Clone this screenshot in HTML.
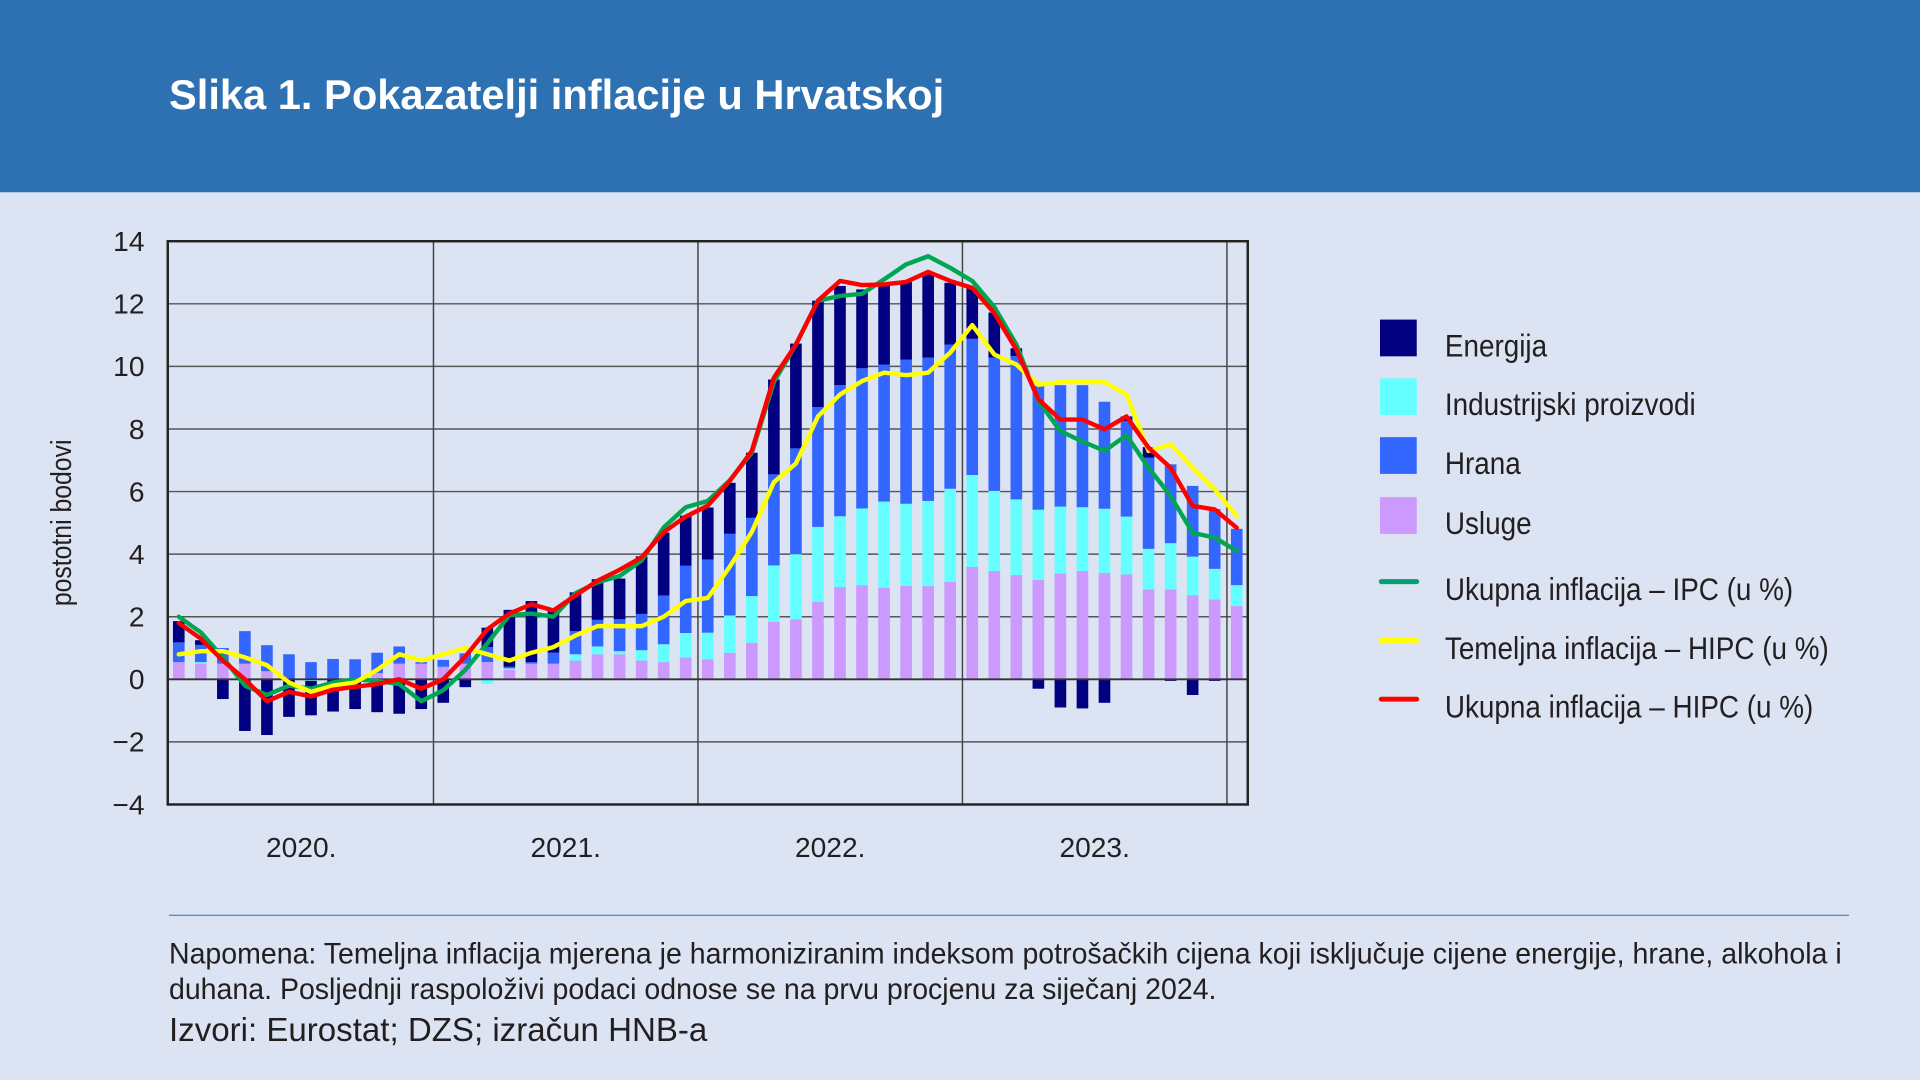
<!DOCTYPE html>
<html><head><meta charset="utf-8">
<style>
html,body{margin:0;padding:0;width:1920px;height:1080px;overflow:hidden;background:#DCE3F2;}
#wrap{position:absolute;left:0;top:0;width:1568px;height:882px;transform:scale(1.22449);transform-origin:0 0;background:#DCE3F2;font-family:"Liberation Sans Narrow","Liberation Sans",sans-serif;color:#231F20;}
#hdr{position:absolute;left:0;top:0;width:1568px;height:157px;background:#2E71B2;}
#title{position:absolute;left:138px;top:59px;font-family:"Liberation Sans",sans-serif;font-weight:bold;font-size:34px;color:#fff;white-space:nowrap;}
.note{position:absolute;left:138px;font-size:24px;white-space:nowrap;transform:scaleX(0.97);transform-origin:0 0;}
</style></head><body>
<div id="wrap">
<div id="hdr"></div>
<div id="title">Slika 1. Pokazatelji inflacije u Hrvatskoj</div>
<svg id="chart" width="1568" height="740" style="position:absolute;left:0;top:0"></svg>
<div style="position:absolute;left:138px;top:747px;width:1372px;height:1px;background:#4A86C5"></div>
<div class="note" style="top:766px">Napomena: Temeljna inflacija mjerena je harmoniziranim indeksom potrošačkih cijena koji isključuje cijene energije, hrane, alkohola i</div>
<div class="note" style="top:795px">duhana. Posljednji raspoloživi podaci odnose se na prvu procjenu za siječanj 2024.</div>
<div class="note" style="top:826px;font-family:'Liberation Sans',sans-serif;font-size:27px;transform:none">Izvori: Eurostat; DZS; izračun HNB-a</div>
</div>
<script>
const services=[0.55,0.5,0.5,0.5,0.26,0,0,0,0,0.2,0.5,0.5,0.4,0.5,0.55,0.3,0.5,0.5,0.6,0.8,0.8,0.6,0.55,0.7,0.64,0.85,1.17,1.84,1.92,2.48,2.95,3.01,2.93,2.98,2.98,3.11,3.59,3.46,3.33,3.18,3.38,3.46,3.4,3.35,2.87,2.87,2.69,2.55,2.34];
const industrial=[0,0.05,0,0,0,0,-0.05,0,0,0,0,0,0,0,-0.15,0.05,0,0,0.2,0.25,0.1,0.33,0.57,0.78,0.85,1.19,1.49,1.8,2.08,2.39,2.26,2.45,2.75,2.63,2.72,2.98,2.94,2.56,2.42,2.24,2.14,2.04,2.05,1.85,1.3,1.48,1.23,0.98,0.67];
const food=[0.63,0.55,0.5,1.04,0.83,0.8,0.55,0.65,0.64,0.65,0.55,0.05,0.22,0.33,0.48,0.05,0.05,0.35,0.74,0.85,1.02,1.16,1.56,2.15,2.34,2.61,2.5,2.91,3.38,3.83,4.19,4.48,4.38,4.61,4.58,4.61,4.35,4.26,4.58,3.96,3.88,3.9,3.42,3.05,2.91,2.52,2.26,1.91,1.8];
const energy=[0.68,0.15,-0.63,-1.65,-1.78,-1.2,-1.1,-1.03,-0.95,-1.05,-1.1,-0.95,-0.75,-0.25,0.62,1.82,1.95,1.42,1.24,1.3,1.3,1.84,2.01,1.6,1.66,1.63,2.08,3.03,3.35,3.4,3.17,2.52,2.51,2.48,2.66,1.97,1.62,1.44,0.25,-0.3,-0.9,-0.93,-0.75,0.15,0.34,-0.05,-0.5,-0.05,-0.02];
const ipc=[2.0,1.5,0.7,-0.2,-0.5,-0.2,-0.3,-0.1,0.0,-0.05,-0.15,-0.7,-0.35,0.3,1.15,2.05,2.1,2.0,2.75,3.1,3.3,3.8,4.85,5.5,5.7,6.36,7.24,9.5,10.7,12.1,12.25,12.32,12.78,13.26,13.52,13.15,12.73,11.9,10.7,8.9,7.93,7.6,7.3,7.8,6.76,5.86,4.68,4.53,4.1];
const core=[0.8,0.9,0.9,0.7,0.45,-0.1,-0.4,-0.2,-0.1,0.3,0.8,0.6,0.8,1.0,0.8,0.6,0.85,1.03,1.4,1.7,1.7,1.7,2.0,2.5,2.6,3.6,4.71,6.3,6.9,8.4,9.1,9.53,9.8,9.72,9.8,10.44,11.32,10.38,10.06,9.41,9.5,9.5,9.5,9.1,7.3,7.51,6.76,6.07,5.22];
const hicp=[1.8,1.3,0.6,0.0,-0.7,-0.4,-0.55,-0.33,-0.24,-0.15,0.0,-0.3,0.0,0.73,1.6,2.1,2.4,2.2,2.68,3.15,3.5,3.9,4.7,5.2,5.55,6.34,7.3,9.64,10.7,12.1,12.73,12.6,12.62,12.7,13.02,12.73,12.51,11.7,10.54,8.95,8.3,8.3,7.99,8.4,7.4,6.76,5.54,5.43,4.84];
const yTicks=[14,12,10,8,6,4,2,0,-2,-4];
const yTickLabels=["14","12","10","8","6","4","2","0","\u22122","\u22124"];
const yearLabels=["2020.","2021.","2022.","2023."];

const NS="http://www.w3.org/2000/svg";
const svg=document.getElementById('chart');
const L=137,R=1019,T=197,B=657,YMAX=14,YMIN=-4;
function y(v){return T+(YMAX-v)*(B-T)/(YMAX-YMIN);}
function x(i){return L+9+18*i;}
function mk(tag,attrs){const e=document.createElementNS(NS,tag);for(const k in attrs)e.setAttribute(k,attrs[k]);svg.appendChild(e);return e;}
function txt(s,attrs){const e=mk('text',attrs);e.textContent=s;return e;}
const FF='Liberation Sans Narrow, Liberation Sans, sans-serif';

mk('rect',{x:L,y:T,width:R-L,height:B-T,fill:'#DCE3F2'});
yTicks.forEach((t,i)=>{
  const g=mk('line',{x1:L,x2:R,y1:y(t),y2:y(t),stroke:'#555','stroke-width':1.2});
  
  
  const lb=txt(yTickLabels[i],{x:118,y:y(t)+8,'text-anchor':'end','font-size':23,fill:'#231F20','font-family':FF});
  
  
});
for(let k=1;k<=4;k++){
  const vx=L+216*k+1;
  const g=mk('line',{x1:vx,x2:vx,y1:T,y2:B,stroke:'#444','stroke-width':1.2});
  
  
}
yearLabels.forEach((s,k)=>{
  const lb=txt(s,{x:L+108+216*k+1,y:700,'text-anchor':'middle','font-size':23,fill:'#231F20','font-family':FF});
  
  
});
const yt=txt('postotni bodovi',{x:0,y:0,transform:'translate(58,427) rotate(-90) scale(0.92,1.05)','text-anchor':'middle','font-size':22,fill:'#231F20','font-family':FF});



const comps=[[services,'#CC99FF','bar-services'],[industrial,'#66FFFF','bar-industrial'],[food,'#3366FF','bar-food'],[energy,'#000080','bar-energy']];
const BW=9.5;
for(let i=0;i<services.length;i++){
  let pos=0,neg=0;
  comps.forEach(c=>{
    const v=c[0][i];let a,b;
    if(v>=0){a=pos;b=pos+v;pos=b;}else{a=neg;b=neg+v;neg=b;}
    const r=mk('rect',{x:x(i)-BW/2,y:Math.min(y(a),y(b)),width:BW,height:Math.abs(y(a)-y(b)),fill:c[1]});
    
    
  });
}
mk('line',{x1:L,x2:R,y1:y(0),y2:y(0),stroke:'#333','stroke-width':1.5});
function line(arr,col,name){
  const p=mk('polyline',{points:arr.map((v,i)=>x(i)+','+y(v)).join(' '),fill:'none',stroke:col,'stroke-width':3.6,'stroke-linejoin':'round','stroke-linecap':'round'});
  
  
}
line(ipc,'#00A651','line-ipc');
line(core,'#FFFF00','line-core-hicp');
line(hicp,'#FF0000','line-hicp');
mk('rect',{x:L,y:T,width:R-L,height:B-T,fill:'none',stroke:'#222','stroke-width':2});

const leg=[['Energija','#000080','box'],['Industrijski proizvodi','#66FFFF','box'],['Hrana','#3366FF','box'],['Usluge','#CC99FF','box'],['Ukupna inflacija \u2013 IPC (u %)','#00A070','line'],['Temeljna inflacija \u2013 HIPC (u %)','#FFFF00','line'],['Ukupna inflacija \u2013 HIPC (u %)','#FF0000','line']];
const legY=[276,324,372,421,475,523,571];
leg.forEach((e,i)=>{
  let m;
  if(e[2]==='box') m=mk('rect',{x:1127,y:legY[i]-15,width:30,height:30,fill:e[1]});
  else m=mk('line',{x1:1128,x2:1157,y1:legY[i],y2:legY[i],stroke:e[1],'stroke-width':4,'stroke-linecap':'round'});
  
  
  const t=txt(e[0],{x:0,y:0,transform:'translate(1180,'+(legY[i]+15)+') scale(0.875,1)','font-size':26,fill:'#231F20','font-family':FF});
  
  
});
</script>
</body></html>
